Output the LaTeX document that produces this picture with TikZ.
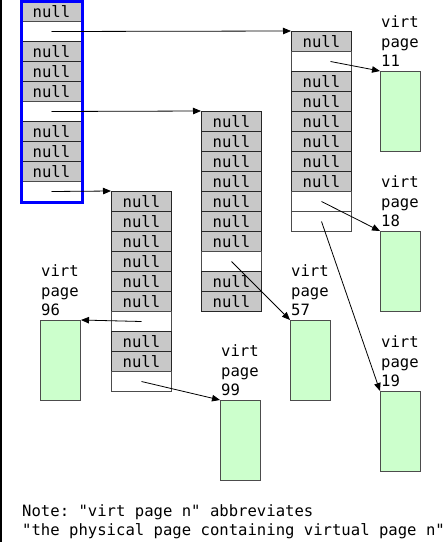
\documentclass[tikz,border=0pt]{standalone}
\usepackage{fontspec}
\setmonofont{DejaVu Sans Mono}
\usepackage{tikz}
\usetikzlibrary{arrows.meta}
\definecolor{nullgray}{RGB}{200,200,200}
\definecolor{framegreen}{RGB}{204,255,204}
\newcommand{\tabfont}{\ttfamily\fontsize{15.6}{19.5}\selectfont}
% #1 name, #2 left x, #3 top y, #4 cells (1 = null, 0 = pointer)
\newcommand{\pagetable}[4]{%
  \foreach \t [count=\i] in {#4} {
    \ifnum\t=1
      \node[nullcell] (#1\i) at (#2,{#3+20*(\i-1)}) {null};
    \else
      \node[ptrcell] (#1\i) at (#2,{#3+20*(\i-1)}) {};
    \fi
  }}

\begin{document}
\begin{tikzpicture}[x=1pt,y=-1pt,font=\tabfont,
  ptrcell/.style={draw=black!70,line width=1pt,anchor=north west,inner sep=0pt,
    minimum width=60pt,minimum height=20pt},
  nullcell/.style={ptrcell,draw=black!85,fill=nullgray},
  vpage/.style={draw=black!70,line width=1pt,fill=framegreen,anchor=north west,
    minimum width=40pt,minimum height=80pt,inner sep=0pt},
  plabel/.style={anchor=south west,align=left,inner sep=0pt,xshift=1pt,yshift=4pt},
  ptr/.style={-{Triangle[length=8pt,width=6.5pt]},line width=0.8pt}]
  \useasboundingbox (0,0) rectangle (448,542);
  \draw[line width=2.5pt] (1,0) -- (1,542);
  % ---- page tables
  \pagetable{a}{21}{1}{1,0,1,1,1,0,1,1,1,0}
  \pagetable{b}{201}{111}{1,1,1,1,1,1,1,0,1,1}
  \pagetable{c}{291}{31}{1,0,1,1,1,1,1,1,0,0}
  \pagetable{d}{111}{191}{1,1,1,1,1,1,0,1,1,0}
  \draw[blue,line width=3pt] (a1.north west) rectangle (a10.south east);
  % ---- physical pages
  \node[vpage,label={[plabel]north west:{virt\\page\\11}}] (p11) at (380,71) {};
  \node[vpage,label={[plabel]north west:{virt\\page\\18}}] (p18) at (380,231) {};
  \node[vpage,label={[plabel]north west:{virt\\page\\19}}] (p19) at (380,391) {};
  \node[vpage,label={[plabel]north west:{virt\\page\\57}}] (p57) at (290,320) {};
  \node[vpage,label={[plabel]north west:{virt\\page\\96}}] (p96) at (40,320) {};
  \node[vpage,label={[plabel]north west:{virt\\page\\99}}] (p99) at (220,400) {};
  % ---- pointers
  \draw[ptr] (a2.center) -- (c1.north west);
  \draw[ptr] (a6.center) -- (b1.north west);
  \draw[ptr] (a10.center) -- (d1.north west);
  \draw[ptr] ([xshift=9pt]c2.center) -- (p11.north west);
  \draw[ptr] (c9.center) -- (p18.north west);
  \draw[ptr] (c10.center) -- (p19.north west);
  \draw[ptr] (b8.center) -- (p57.north west);
  \draw[ptr] (d7.center) -- (p96.north east);
  \draw[ptr] (d10.center) -- (p99.north west);
  \node[anchor=north west,align=left,inner sep=0pt] (note) at (22,504)
    {Note: "virt page n" abbreviates\\"the physical page containing virtual page n"};
\end{tikzpicture}
\end{document}
